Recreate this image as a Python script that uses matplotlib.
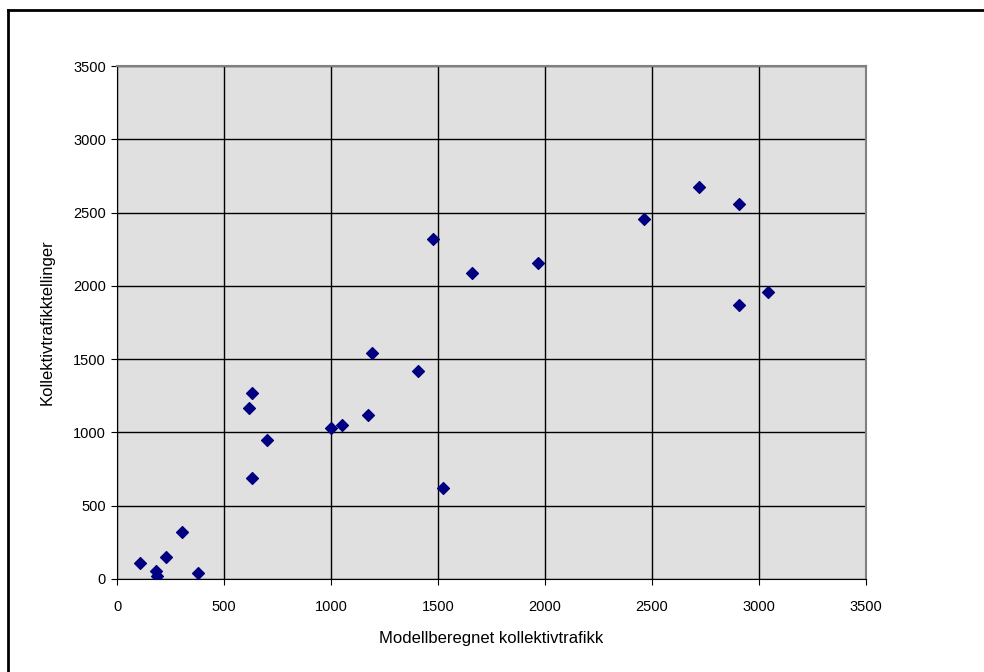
import matplotlib
matplotlib.use('Agg')
import matplotlib.pyplot as plt
from matplotlib.lines import Line2D

# modelled vs counted public transport volumes
modell = [107, 182, 185, 228, 305, 377,
          617, 631, 631, 701, 1000, 1051, 1173, 1192, 1407, 1477, 1523,
          1659, 1967, 2463, 2720, 2907, 2907, 3042]
tellinger = [109, 55, 18, 150, 320, 40,
             1167, 1269, 689, 948, 1030, 1050, 1119, 1542, 1419, 2319, 621,
             2087, 2156, 2456, 2674, 2558, 1869, 1958]
ticks = [0, 500, 1000, 1500, 2000, 2500, 3000, 3500]

plt.rcParams['font.family'] = ['Liberation Sans', 'DejaVu Sans']

fig = plt.figure(figsize=(9.84, 6.72), dpi=100)
ax = fig.add_axes([117/984, 93/672, 749/984, 513/672])
ax.set_facecolor('#e0e0e0')

ax.scatter(modell, tellinger, marker='D', s=36, color='#000080', zorder=3)

ax.set_xlim(0, 3500)
ax.set_ylim(0, 3500)
ax.set_xticks(ticks)
ax.set_yticks(ticks)
ax.tick_params(labelsize=10.5, length=4, direction='out', color='black')
ax.tick_params(axis='x', pad=11)
ax.tick_params(axis='y', pad=4)
ax.grid(True, color='black', linewidth=1)
ax.set_axisbelow(True)

for side in ['left', 'bottom']:
    ax.spines[side].set_color('black')
for side in ['right', 'top']:
    ax.spines[side].set_color('#808080')
    ax.spines[side].set_linewidth(1.5)

ax.set_xlabel('Modellberegnet kollektivtrafikk', fontsize=12, labelpad=12)
ax.set_ylabel('Kollektivtrafikktellinger', fontsize=12, labelpad=13)

# frame round the chart (only top and left visible)
fig.add_artist(Line2D([8/984, 8/984], [0, 1 - 10/672], color='black', lw=2, transform=fig.transFigure))
fig.add_artist(Line2D([8/984, 1], [1 - 10/672, 1 - 10/672], color='black', lw=2, transform=fig.transFigure))

fig.savefig('out.png', dpi=100)
